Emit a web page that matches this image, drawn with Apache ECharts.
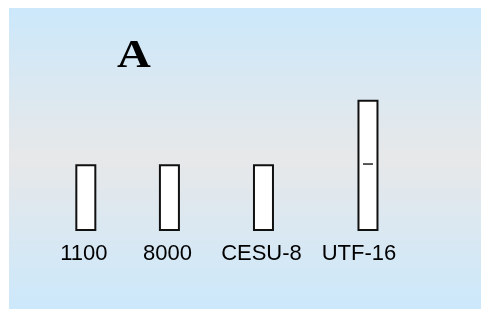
<!DOCTYPE html>
<html>
<head>
<meta charset="utf-8">
<script src="https://cdn.jsdelivr.net/npm/echarts@6/dist/echarts.min.js"></script>
<style>
    html, body { margin: 0; padding: 0; background: #fff; }
    #chart { width: 481px; height: 310px; }
</style>
</head>
<body>
<div id="chart"></div>
<script>
// data
const labels = ['1100', '8000', 'CESU-8', 'UTF-16'];
const values = [1, 1, 1, 2];
const marks = [null, null, null, 1.02];

// bars are not evenly spaced in the picture, so pad with empty slots
const slotGaps = [8, 9, 10];

let categories = [];
let barData = [];
let markData = [];
labels.forEach(function (name, i) {
    categories.push(name);
    barData.push(values[i]);
    markData.push(marks[i]);
    if (i < slotGaps.length) {
        for (let k = 1; k < slotGaps[i]; k++) {
            categories.push('');
            barData.push(null);
            markData.push(null);
        }
    }
});

var myChart = echarts.init(document.getElementById('chart'));

// bars wider than one slot, so draw them as custom rects on the axes
function renderBar(params, api) {
    const v = api.value(1);
    if (v == null || isNaN(v)) return;
    const top = api.coord([api.value(0), v]);
    const base = api.coord([api.value(0), 0]);
    const w = 19;
    return {
        type: 'rect',
        shape: { x: top[0] - w / 2, y: top[1], width: w, height: base[1] - top[1] },
        style: { fill: '#ffffff', stroke: '#111', lineWidth: 2 }
    };
}

const options = {
    animation: false,
    backgroundColor: '#ffffff',
    graphic: [
        {
            type: 'rect',
            z: -10,
            shape: { x: 9, y: 8, width: 472, height: 301 },
            style: {
                fill: new echarts.graphic.LinearGradient(0, 0, 0, 1, [
                    { offset: 0, color: '#cce8fb' },
                    { offset: 0.5, color: '#e7e8e9' },
                    { offset: 1, color: '#cce8fb' }
                ])
            }
        },
        {
            type: 'text',
            x: 134,
            y: 57,
            scaleX: 1.2,
            style: {
                text: 'A',
                fontFamily: 'Liberation Serif',
                fontSize: 39,
                fontWeight: 'bold',
                fill: '#000',
                align: 'center',
                verticalAlign: 'middle'
            }
        }
    ],
    grid: {
        left: 80.6,
        right: 107.8,
        top: 36,
        bottom: 80
    },
    xAxis: {
        type: 'category',
        data: categories,
        axisLine: { show: false },
        axisTick: { show: false },
        axisLabel: {
            interval: 0,
            margin: 13,
            color: '#000',
            fontFamily: 'Liberation Sans',
            fontSize: 22,
            formatter: function (v) {
                return v === 'UTF-16' ? '{s|' + v + '}' : '{n|' + v + '}';
            },
            rich: {
                n: { fontFamily: 'Liberation Sans', fontSize: 22, color: '#000', padding: [0, 4, 0, 0] },
                s: { fontFamily: 'Liberation Sans', fontSize: 22, color: '#000', padding: [0, 18, 0, 0] }
            }
        }
    },
    yAxis: {
        type: 'value',
        min: 0,
        max: 3,
        show: false
    },
    series: [
        {
            type: 'custom',
            renderItem: renderBar,
            data: barData.map(function (v, i) { return [i, v]; }),
            encode: { x: 0, y: 1 },
            z: 2
        },
        {
            type: 'scatter',
            data: markData,
            symbol: 'rect',
            symbolSize: [10, 1.5],
            itemStyle: { color: '#222', opacity: 1 },
            z: 10
        }
    ]
};

myChart.setOption(options);
</script>
</body>
</html>
